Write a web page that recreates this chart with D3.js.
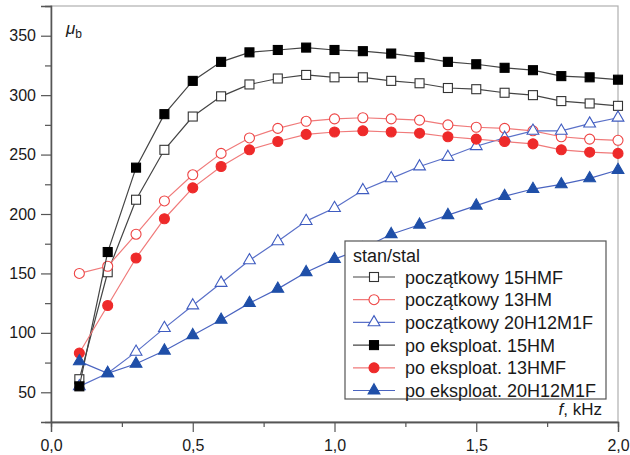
<!DOCTYPE html>
<html>
<head>
<meta charset="utf-8">
<script src="https://cdn.jsdelivr.net/npm/d3@7"></script>
<style>
  body { margin: 0; background: #fff; }
  text { font-family: "Liberation Sans", Arial, sans-serif; fill: #1a1a1a; }
</style>
</head>
<body>
<svg width="630" height="455"></svg>
<script>
var freq = [0.1,0.2,0.3,0.4,0.5,0.6,0.7,0.8,0.9,1.0,1.1,1.2,1.3,1.4,1.5,1.6,1.7,1.8,1.9,2.0];

var pocz15HMF = [61,151,212,254,282,299,309,314,317,315,315,312,310,306,305,302,300,295,293,291];
var pocz13HM  = [150,156,183,211,233,251,264,272,278,280,281,280,279,275,273,272,270,265,263,262];
var pocz20H   = [55,66,84,104,123,142,161,177,194,205,220,230,240,248,257,264,270,270,276,281];
var po15HM    = [55,168,239,284,312,328,336,338,340,338,337,335,332,328,326,323,321,316,315,313];
var po13HMF   = [83,123,163,196,222,240,254,261,267,269,270,269,268,265,263,261,259,254,252,251];
var po20H     = [76,66,74,85,98,111,125,137,151,162,171,183,191,199,207,215,221,225,230,237];

var seriesNames = ["początkowy 15HMF","początkowy 13HM","początkowy 20H12M1F",
                   "po eksploat. 15HM","po eksploat. 13HMF","po eksploat. 20H12M1F"];
var xTicks = [0,0.5,1.0,1.5,2.0];
var yTicks = [50,100,150,200,250,300,350];

var series = [
  {name: seriesNames[0], values: pocz15HMF, shape: "square",   fill: "#fff",    stroke: "#333", line: "#444"},
  {name: seriesNames[1], values: pocz13HM,  shape: "circle",   fill: "#fff",    stroke: "#ee4444", line: "#f07a7a"},
  {name: seriesNames[2], values: pocz20H,   shape: "triangle", fill: "#fff",    stroke: "#3f5cc0", line: "#5a70c8"},
  {name: seriesNames[3], values: po15HM,    shape: "square",   fill: "#000",    stroke: "#000", line: "#444"},
  {name: seriesNames[4], values: po13HMF,   shape: "circle",   fill: "#ee2a2a", stroke: "#ee2a2a", line: "#f07a7a"},
  {name: seriesNames[5], values: po20H,     shape: "triangle", fill: "#1f4fa8", stroke: "#1f4fa8", line: "#4a64c0"}
];

var svg = d3.select("svg");
var mLeft = 51, mRight = 618, mTop = 6, mBottom = 422;

var x = d3.scaleLinear().domain([0, 2]).range([mLeft, mRight]);
var y = d3.scaleLinear().domain([25, 375]).range([mBottom, mTop]);

// frame
svg.append("rect").attr("x", mLeft).attr("y", mTop)
  .attr("width", mRight - mLeft).attr("height", mBottom - mTop)
  .attr("fill", "none").attr("stroke", "#b0b0b0").attr("stroke-width", 1.2);

// axes
svg.append("g").attr("transform", "translate(0," + mBottom + ")")
  .call(d3.axisBottom(x).tickValues(xTicks).tickSize(10).tickPadding(8)
    .tickFormat(function(d) { return d3.format(".1f")(d).replace(".", ","); }));
svg.append("g").attr("transform", "translate(0," + mBottom + ")")
  .call(d3.axisBottom(x).tickValues([0.25,0.75,1.25,1.75]).tickSize(5).tickFormat(""));
svg.append("g").attr("transform", "translate(" + mLeft + ",0)")
  .call(d3.axisLeft(y).tickValues(yTicks).tickSize(10).tickPadding(5));
svg.append("g").attr("transform", "translate(" + mLeft + ",0)")
  .call(d3.axisLeft(y).tickValues([75,125,175,225,275,325]).tickSize(6).tickFormat(""));

svg.selectAll(".domain").attr("stroke", "#555").attr("stroke-width", 1.3);
svg.selectAll(".tick line").attr("stroke", "#555").attr("stroke-width", 1.2);
svg.selectAll(".tick text").attr("font-size", 16).attr("fill", "#1a1a1a")
  .attr("font-family", "Liberation Sans, Arial, sans-serif");

// axis titles
var mu = svg.append("text").attr("x", 66).attr("y", 34).attr("font-size", 17);
mu.append("tspan").attr("font-style", "italic").text("μ");
mu.append("tspan").attr("font-size", 12).attr("dy", 4).text("b");
var fl = svg.append("text").attr("x", 602).attr("y", 415).attr("text-anchor", "end").attr("font-size", 17);
fl.append("tspan").attr("font-style", "italic").text("f");
fl.append("tspan").text(", kHz");

function drawMarker(g, s, cx, cy) {
  if (s.shape === "square") {
    g.append("rect").attr("x", cx - 4.5).attr("y", cy - 4.5).attr("width", 9).attr("height", 9)
      .attr("fill", s.fill).attr("stroke", s.stroke).attr("stroke-width", 1.1);
  } else if (s.shape === "circle") {
    g.append("circle").attr("cx", cx).attr("cy", cy).attr("r", 5)
      .attr("fill", s.fill).attr("stroke", s.stroke).attr("stroke-width", 1.1);
  } else {
    var sym = d3.symbol().type(d3.symbolTriangle).size(60);
    g.append("path").attr("d", sym()).attr("transform", "translate(" + cx + "," + cy + ")")
      .attr("fill", s.fill).attr("stroke", s.stroke).attr("stroke-width", 1.1);
  }
}

var line = d3.line().x(function(d) { return x(d[0]); }).y(function(d) { return y(d[1]); });

series.forEach(function(s) {
  var pts = freq.map(function(f, i) { return [f, s.values[i]]; });
  var g = svg.append("g");
  g.append("path").datum(pts).attr("d", line).attr("fill", "none")
    .attr("stroke", s.line).attr("stroke-width", 1.2);
  pts.forEach(function(p) { drawMarker(g, s, x(p[0]), y(p[1])); });
});

// legend
var lg = svg.append("g");
lg.append("rect").attr("x", 345).attr("y", 241).attr("width", 261).attr("height", 158)
  .attr("fill", "#fff").attr("stroke", "#555").attr("stroke-width", 1.2);
lg.append("text").attr("x", 353).attr("y", 262).attr("font-size", 18).text("stan/stal");
series.forEach(function(s, i) {
  var cy = 277 + i * 22.7;
  lg.append("line").attr("x1", 353).attr("x2", 395).attr("y1", cy).attr("y2", cy)
    .attr("stroke", s.line).attr("stroke-width", 1.2);
  drawMarker(lg, s, 374, cy);
  lg.append("text").attr("x", 405).attr("y", cy + 6.5).attr("font-size", 18).text(s.name);
});
</script>
</body>
</html>
